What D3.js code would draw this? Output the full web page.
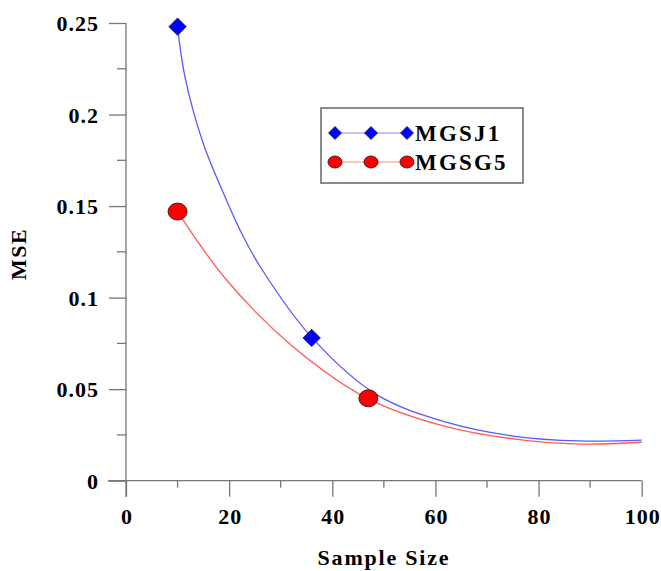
<!DOCTYPE html>
<html lang="en">
<head>
<meta charset="UTF-8">
<title>MSE vs Sample Size</title>
<style>
  body { margin: 0; background: #fff; }
  svg text { font-family: "Liberation Serif", "Times New Roman", serif; font-weight: bold; fill: #000; }
</style>
</head>
<body>
<div id="chart"></div>
<script src="https://cdnjs.cloudflare.com/ajax/libs/d3/7.8.2/d3.min.js"></script>
<script>
// observed points
var seriesNames = ["MGSJ1", "MGSG5"];
var sjX = [10, 36];
var sjY = [0.248, 0.078];
var sgX = [10, 47];
var sgY = [0.147, 0.045];

// fitted curves
var sjCurveX = [10, 11.4, 15, 18.9, 22.1, 26, 36.1, 48.6, 62.1, 75.1, 88, 100];
var sjCurveY = [0.248, 0.221, 0.184, 0.157, 0.137, 0.117, 0.078, 0.047, 0.032, 0.0244, 0.0217, 0.0222];
var sgCurveX = [10, 19.5, 32.4, 46.8, 62.1, 75.1, 88, 100];
var sgCurveY = [0.147, 0.1096, 0.0732, 0.045, 0.0295, 0.0228, 0.0200, 0.0210];

var xTicks = [0, 20, 40, 60, 80, 100];
var xMinor = [10, 30, 50, 70, 90];
var yTicks = [0, 0.05, 0.1, 0.15, 0.2, 0.25];
var yMinor = [0.025, 0.075, 0.125, 0.175, 0.225];

var width = 661, height = 571;
var svg = d3.select("#chart").append("svg")
  .attr("width", width)
  .attr("height", height);

var x = d3.scaleLinear().domain([0, 100]).range([126, 641.7]);
var y = d3.scaleLinear().domain([0, 0.25]).range([480.7, 23]);

var axisColor = "#777";

// y axis
var gy = svg.append("g").attr("transform", "translate(" + x(0) + ",0)");
gy.call(d3.axisLeft(y).tickValues(yTicks).tickSize(17).tickPadding(10)
  .tickFormat(function(d) { return String(d); }));
gy.select(".domain").remove();
gy.selectAll(".tick line").attr("stroke", axisColor).attr("stroke-width", 1.3);
gy.selectAll(".tick text").attr("font-size", 22).attr("font-family", null)
  .attr("letter-spacing", 1).attr("dy", "0.34em");
gy.append("g").selectAll("line").data(yMinor).enter().append("line")
  .attr("x1", -9).attr("x2", 0)
  .attr("y1", function(d) { return y(d); }).attr("y2", function(d) { return y(d); })
  .attr("stroke", axisColor).attr("stroke-width", 1.3);
gy.append("line").attr("x1", 0).attr("x2", 0)
  .attr("y1", y(0.25)).attr("y2", y(0) + 16)
  .attr("stroke", axisColor).attr("stroke-width", 1.3);

// x axis
var gx = svg.append("g").attr("transform", "translate(0," + y(0) + ")");
gx.call(d3.axisBottom(x).tickValues(xTicks).tickSize(16).tickPadding(12)
  .tickFormat(function(d) { return String(d); }));
gx.select(".domain").remove();
gx.selectAll(".tick line").attr("stroke", axisColor).attr("stroke-width", 1.3);
gx.selectAll(".tick text").attr("font-size", 22).attr("font-family", null)
  .attr("letter-spacing", 1).attr("dx", "0.5");
gx.append("g").selectAll("line").data(xMinor).enter().append("line")
  .attr("y1", 0).attr("y2", 7)
  .attr("x1", function(d) { return x(d); }).attr("x2", function(d) { return x(d); })
  .attr("stroke", axisColor).attr("stroke-width", 1.3);
gx.append("line").attr("y1", 0).attr("y2", 0)
  .attr("x1", x(0) - 18).attr("x2", x(100))
  .attr("stroke", axisColor).attr("stroke-width", 1.3);

// axis titles
svg.append("text")
  .attr("x", 384).attr("y", 565)
  .attr("text-anchor", "middle").attr("font-size", 22).attr("letter-spacing", 1.8)
  .text("Sample Size");
svg.append("text")
  .attr("transform", "translate(26,254) rotate(-90)")
  .attr("text-anchor", "middle").attr("font-size", 22).attr("letter-spacing", 1.5)
  .text("MSE");

// curves
var line = d3.line()
  .x(function(d) { return x(d[0]); })
  .y(function(d) { return y(d[1]); })
  .curve(d3.curveCatmullRom);

svg.append("path")
  .datum(d3.zip(sgCurveX, sgCurveY))
  .attr("d", line)
  .attr("fill", "none").attr("stroke", "#ff5a5a").attr("stroke-width", 1.3);
svg.append("path")
  .datum(d3.zip(sjCurveX, sjCurveY))
  .attr("d", line)
  .attr("fill", "none").attr("stroke", "#5a5aff").attr("stroke-width", 1.3);

function diamond(g, cx, cy, r) {
  g.append("path")
    .attr("d", "M" + cx + "," + (cy - r) + "L" + (cx + r) + "," + cy + "L" + cx + "," + (cy + r) + "L" + (cx - r) + "," + cy + "Z")
    .attr("fill", "#0000ff").attr("stroke", "#1a1a40").attr("stroke-width", 0.8);
}
function dot(g, cx, cy, rx, ry) {
  g.append("ellipse")
    .attr("cx", cx).attr("cy", cy).attr("rx", rx).attr("ry", ry)
    .attr("fill", "#ff0000").attr("stroke", "#401010").attr("stroke-width", 0.9);
}

// markers
var marks = svg.append("g");
d3.zip(sgX, sgY).forEach(function(p) { dot(marks, x(p[0]), y(p[1]), 9.5, 8.5); });
d3.zip(sjX, sjY).forEach(function(p) { diamond(marks, x(p[0]), y(p[1]), 8.7); });

// legend
var lg = svg.append("g");
lg.append("rect")
  .attr("x", 321).attr("y", 108).attr("width", 202).attr("height", 75)
  .attr("fill", "#fff").attr("stroke", "#666").attr("stroke-width", 1.5);
var legendX = [335, 371, 407];
lg.append("line").attr("x1", legendX[0]).attr("x2", legendX[2]).attr("y1", 133).attr("y2", 133)
  .attr("stroke", "#8888ff").attr("stroke-width", 1.2);
lg.append("line").attr("x1", legendX[0]).attr("x2", legendX[2]).attr("y1", 162).attr("y2", 162)
  .attr("stroke", "#ff8888").attr("stroke-width", 1.2);
legendX.forEach(function(lx) {
  diamond(lg, lx, 133, 6.5);
  dot(lg, lx, 162, 7, 6);
});
lg.append("text").attr("x", 415).attr("y", 141).attr("font-size", 23).attr("letter-spacing", 2.2).text(seriesNames[0]);
lg.append("text").attr("x", 415).attr("y", 170).attr("font-size", 23).attr("letter-spacing", 2.2).text(seriesNames[1]);
</script>
</body>
</html>
